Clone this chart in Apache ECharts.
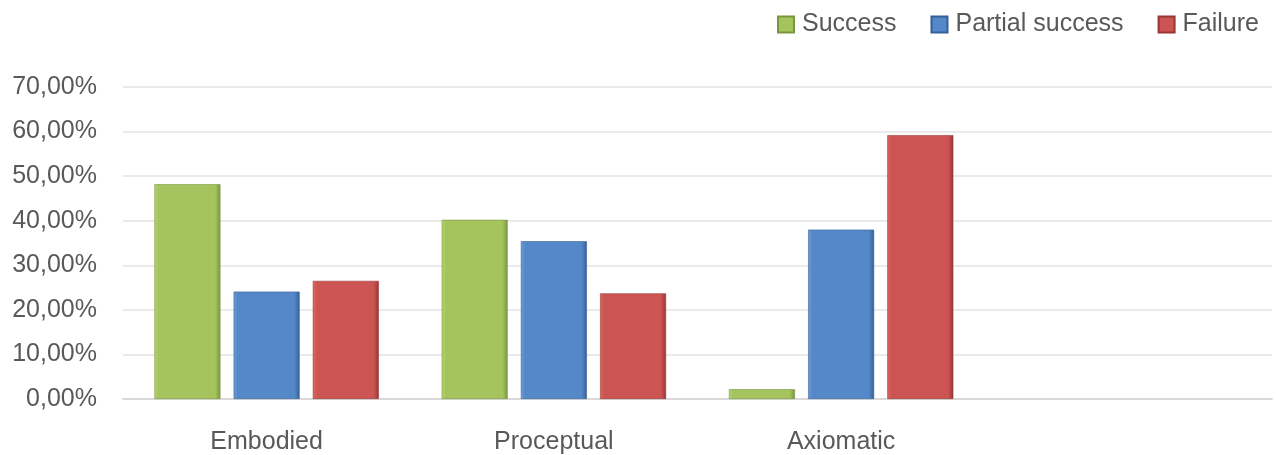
<!DOCTYPE html>
<html>
<head>
<meta charset="utf-8">
<script src="https://cdn.jsdelivr.net/npm/echarts@6/dist/echarts.min.js"></script>
<style>
html,body{margin:0;padding:0;background:#fff;}
#c{width:1276px;height:455px;}
</style>
</head>
<body>
<div id="c"></div>
<script>
var categories = ['Embodied', 'Proceptual', 'Axiomatic', ''];
var seriesNames = ['Success', 'Partial success', 'Failure'];
var success = [48.2, 40.2, 2.2, null];
var partial = [24.1, 35.4, 38.0, null];
var failure = [26.5, 23.7, 59.2, null];
var yTicks = [0, 10, 20, 30, 40, 50, 60, 70];

var font = 'Liberation Sans';
function bevel(light, base, dark) {
  return new echarts.graphic.LinearGradient(0, 0, 1, 0, [
    {offset: 0, color: light},
    {offset: 0.06, color: base},
    {offset: 0.92, color: base},
    {offset: 1, color: dark}
  ]);
}
var styles = [
  {light: '#b8d375', base: '#a5c45e', dark: '#7a9540'},
  {light: '#6e9fd8', base: '#5588c8', dark: '#355f95'},
  {light: '#dc6a68', base: '#cc5452', dark: '#963735'}
];
var dataSets = [success, partial, failure];

var chart = echarts.init(document.getElementById('c'));
chart.setOption({
  animation: false,
  backgroundColor: '#ffffff',
  legend: {
    right: 12,
    top: 7,
    itemWidth: 16,
    itemHeight: 16,
    itemGap: 34,
    icon: 'rect',
    textStyle: {fontFamily: font, fontSize: 25, color: '#595959', padding: [0, 0, 0, 3]},
    data: seriesNames
  },
  grid: {left: 123, right: 4, top: 87, bottom: 56, containLabel: false},
  xAxis: {
    type: 'category',
    data: categories,
    axisLine: {show: true, lineStyle: {color: '#d9d9d9', width: 2}},
    axisTick: {show: false},
    axisLabel: {fontFamily: font, fontSize: 25, color: '#595959', margin: 31}
  },
  yAxis: {
    type: 'value',
    min: 0,
    max: 70,
    interval: 10,
    axisLine: {show: false},
    axisTick: {show: false},
    splitLine: {lineStyle: {color: '#e3e3e3', width: 1.5}},
    axisLabel: {
      fontFamily: font, fontSize: 25, color: '#595959', margin: 26, padding: [4, 0, 0, 0],
      formatter: function (v) { return yTicks.indexOf(v) >= 0 ? v.toFixed(2).replace('.', ',') + '%' : ''; }
    }
  },
  series: seriesNames.map(function (n, i) {
    return {
      name: n,
      type: 'bar',
      data: dataSets[i],
      barWidth: 66,
      barGap: '20%',
      itemStyle: {
        color: bevel(styles[i].light, styles[i].base, styles[i].dark),
        borderColor: styles[i].dark,
        borderWidth: 0.6
      }
    };
  })
});
</script>
</body>
</html>
